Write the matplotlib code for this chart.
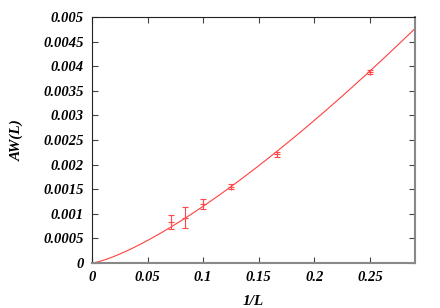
import numpy as np
import matplotlib.pyplot as plt

# data
inv_L = [1/14, 1/12, 1/10, 1/8, 1/6, 1/4]
aw = [0.00084, 0.00092, 0.00120, 0.00155, 0.00221, 0.00389]
aw_err = [0.00014, 0.00021, 0.00010, 0.00005, 0.00005, 0.00004]

# fitted curve  AW = amp * x**expo
fit_amp = 0.02465
fit_expo = 1.33

plt.rcParams['font.family'] = ['Liberation Serif', 'DejaVu Serif']

fig = plt.figure(figsize=(4.4, 3.08), dpi=100)
ax = fig.add_axes([92/440, 1 - 263/308, (415-92)/440, (263-17)/308])

xf = np.linspace(0, 0.2906, 300)
ax.plot(xf, fit_amp * xf ** fit_expo, color='#ff4040', lw=0.8)
ax.errorbar(inv_L, aw, yerr=aw_err, fmt='+', color='#ff4848', ms=4,
            mew=0.8, elinewidth=0.8, capsize=2.5, capthick=0.8)

ax.set_xlim(0, 0.2906)
ax.set_ylim(0, 0.005)
ax.set_xticks([0, 0.05, 0.1, 0.15, 0.2, 0.25])
ax.set_xticklabels(['0', '0.05', '0.1', '0.15', '0.2', '0.25'])
yt = [0, 0.0005, 0.001, 0.0015, 0.002, 0.0025, 0.003, 0.0035, 0.004, 0.0045, 0.005]
ax.set_yticks(yt)
ax.set_yticklabels(['0', '0.0005', '0.001', '0.0015', '0.002', '0.0025', '0.003',
                    '0.0035', '0.004', '0.0045', '0.005'])
ax.tick_params(direction='in', length=4, width=0.8, top=True, right=True,
               labelsize=10.5, pad=6, color='#444444')
for lab in ax.get_xticklabels() + ax.get_yticklabels():
    lab.set_fontweight('bold')
    lab.set_fontstyle('italic')

for s in ['left', 'top']:
    ax.spines[s].set_color('#222222')
    ax.spines[s].set_linewidth(0.8)
for s in ['bottom', 'right']:
    ax.spines[s].set_color('#888888')
    ax.spines[s].set_linewidth(1.5)

ax.set_xlabel('1/L', fontsize=11, fontweight='bold', fontstyle='italic', labelpad=8)
ax.set_ylabel('AW(L)', fontsize=11, fontweight='bold', fontstyle='italic', labelpad=14)

fig.savefig('out.png', dpi=100)
